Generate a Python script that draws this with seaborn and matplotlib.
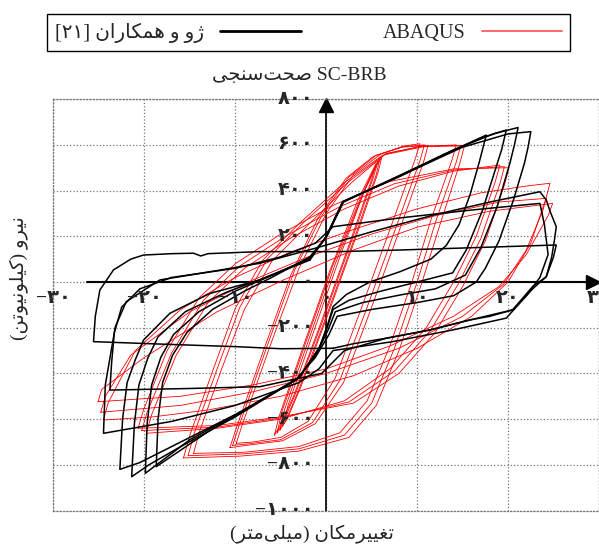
import re

import matplotlib
matplotlib.use('Agg')
import matplotlib.pyplot as plt
from matplotlib.lines import Line2D
import pandas as pd
import seaborn as sns


FONT = ['Liberation Serif', 'DejaVu Sans']

# Persian labels (logical order, shaped + reordered below)
TITLE = 'SC-BRB صحت\u200cسنجی'
XLABEL = 'تغییرمکان (میلی\u200cمتر)'
YLABEL = 'نیرو (کیلونیوتن)'
EXP_LABEL = 'ژو و همکاران [۲۱]'
FE_LABEL = 'ABAQUS'

X_TICKS = [-30, -20, -10, 0, 10, 20, 30]
X_TICK_LABELS = ['−۳۰', '−۲۰', '−۱۰', '۰', '۱۰', '۲۰', '۳۰']
Y_TICKS = [800, 600, 400, 200, 0, -200, -400, -600, -800, -1000]
Y_TICK_LABELS = ['۸۰۰', '۶۰۰', '۴۰۰', '۲۰۰', '۰', '−۲۰۰', '−۴۰۰', '−۶۰۰', '−۸۰۰', '−۱۰۰۰']

EXP_1 = [(-1.8, 110), (0.0, 198), (1.85, 351), (6.0, 428), (11.0, 520), (15.0, 595), (17.6, 643),
         (16.8, 520), (15.8, 380), (14.6, 250), (13.2, 160), (11.5, 100), (8.1, 45), (4.8, 0),
         (2.2, -55), (0.75, -108), (0.2, -181), (-0.7, -283), (-2.9, -414), (-8.0, -538),
         (-13.0, -655), (-18.7, -808), (-18.5, -600), (-18.0, -440), (-16.9, -320), (-15.3, -220),
         (-12.5, -120), (-9.0, -40), (-6.0, 20), (-1.8, 110)]
EXP_2 = [(-1.8, 105), (0.0, 195), (1.9, 350), (7.0, 445), (13.0, 560), (17.0, 630), (19.8, 665),
         (19.3, 580), (18.7, 505), (17.2, 315), (15.4, 140), (13.9, 40), (10.0, 0), (6.0, -40),
         (2.5, -80), (0.75, -120), (0.1, -200), (-0.8, -290), (-3.0, -420), (-9.0, -560),
         (-15.0, -690), (-19.9, -837), (-19.7, -620), (-19.2, -450), (-18.2, -330), (-16.8, -230),
         (-14.0, -130), (-10.0, -40), (-6.5, 20), (-1.8, 105)]
EXP_3 = [(-1.8, 100), (0.0, 200), (1.8, 352), (8.0, 460), (14.0, 578), (18.5, 650), (21.1, 676),
         (20.7, 600), (20.2, 520), (18.8, 330), (17.0, 150), (15.3, 30), (12.0, -30), (8.1, -57),
         (4.0, -90), (1.0, -130), (0.2, -210), (-1.0, -310), (-3.2, -425), (-10.0, -590),
         (-16.0, -720), (-19.5, -800), (-21.4, -852), (-21.1, -620), (-20.6, -450), (-19.6, -330),
         (-18.5, -240), (-15.5, -130), (-11.0, -45), (-7.0, 15), (-1.8, 100)]
EXP_4 = [(-1.8, 96), (0.0, 198), (1.85, 351), (9.0, 480), (15.0, 590), (20.0, 648), (22.5, 658),
         (22.2, 590), (21.8, 520), (20.6, 360), (19.0, 180), (17.5, 60), (16.5, 0), (14.0, -60),
         (10.0, -90), (5.0, -120), (1.2, -150), (0.3, -230), (-1.2, -330), (-3.4, -430),
         (-10.0, -580), (-16.0, -700), (-20.5, -790), (-22.7, -820), (-22.4, -600), (-21.9, -440),
         (-21.0, -340), (-20.1, -254), (-17.2, -137), (-12.8, -50), (-7.3, 9), (-1.8, 96)]
EXP_5 = [(0.75, -290), (-5.0, -292), (-9.9, -283), (-18.0, -272), (-25.6, -261), (-25.4, -150),
         (-24.9, -35), (-23.4, 53), (-21.5, 100), (-20.1, 118), (-17.0, 124), (-14.6, 126),
         (-13.8, 114), (-13.0, 124), (-7.3, 133), (1.5, 133), (8.1, 140), (16.0, 150), (25.3, 162),
         (25.0, 110), (24.6, 67), (24.2, 23), (22.7, -20), (20.5, -122), (18.0, -150), (15.8, -166),
         (11.4, -210), (6.6, -246), (3.0, -270), (0.75, -290)]
EXP_6 = [(-1.0, 150), (5.0, 220), (12.0, 295), (18.0, 350), (23.5, 395), (24.2, 359), (24.7, 301),
         (25.3, 242), (25.1, 184), (24.8, 110), (24.2, 23), (22.7, -30), (19.8, -158), (13.9, -210),
         (7.3, -261), (0.75, -300), (-0.8, -380), (-3.0, -440), (-10.0, -540), (-17.0, -610),
         (-24.2, -660), (-24.5, -662), (-24.3, -450), (-23.2, -196), (-22.0, -86), (-18.3, 9),
         (-12.0, 50), (-7.3, 82), (-1.0, 150)]
EXP_7 = [(-1.2, 170), (0.75, 242), (8.0, 280), (16.0, 315), (23.5, 344), (24.0, 250), (24.4, 120),
         (23.5, 20), (22.0, -60), (20.5, -122), (15.8, -166), (11.4, -210), (6.6, -246), (2.0, -300),
         (-0.5, -400), (-7.3, -458), (-15.0, -466), (-23.8, -473), (-23.6, -350), (-23.3, -220),
         (-22.5, -110), (-20.5, -30), (-17.0, 20), (-10.0, 60), (-5.0, 110), (-1.2, 170)]

# ABAQUS loops
FE_1 = [(-5.1, -648), (-4.6, -560), (-2.0, -260), (1.0, 80), (4.0, 380), (5.4, 500), (5.9, 540),
        (5.5, 470), (3.0, 180), (0.0, -150), (-3.0, -470), (-4.5, -610), (-5.1, -648)]
FE_2 = [(-4.8, -630), (-4.2, -540), (-1.5, -230), (1.5, 110), (4.2, 400), (5.5, 510), (6.1, 545),
        (5.7, 480), (3.3, 200), (0.3, -130), (-2.8, -460), (-4.3, -600), (-4.8, -630)]
FE_3 = [(-5.4, -660), (-4.9, -570), (-2.3, -270), (0.7, 70), (3.8, 370), (5.2, 490), (5.7, 530),
        (5.2, 460), (2.7, 170), (-0.3, -160), (-3.3, -480), (-4.8, -620), (-5.4, -660)]
FE_4 = [(-9.9, -706), (-9.2, -620), (-6.0, -260), (-3.0, 60), (0.0, 300), (3.0, 470), (6.0, 560),
        (8.5, 595), (10.3, 605), (9.8, 540), (7.0, 230), (4.0, -100), (1.0, -420), (-2.0, -610),
        (-5.0, -680), (-8.0, -700), (-9.9, -706)]
FE_5 = [(-10.3, -715), (-9.6, -630), (-6.5, -280), (-3.5, 50), (-0.5, 290), (2.5, 460), (5.5, 555),
        (8.5, 592), (10.8, 600), (10.3, 530), (7.5, 220), (4.5, -110), (1.5, -430), (-1.5, -615),
        (-5.0, -690), (-8.5, -708), (-10.3, -715)]
FE_6 = [(-14.6, -750), (-13.9, -650), (-11.5, -380), (-9.0, -120), (-6.0, 90), (-2.0, 250),
        (2.9, 439), (6.6, 563), (10.3, 592), (14.3, 600), (13.8, 530), (11.5, 270), (9.5, 10),
        (7.0, -280), (4.5, -520), (1.5, -660), (-3.0, -720), (-9.0, -745), (-14.6, -750)]
FE_7 = [(-15.2, -760), (-14.5, -660), (-12.0, -380), (-9.5, -110), (-6.5, 100), (-2.5, 260),
        (2.5, 440), (6.5, 560), (10.5, 595), (14.8, 598), (14.3, 525), (12.0, 260), (10.0, 0),
        (7.5, -290), (5.0, -530), (2.0, -670), (-3.0, -730), (-9.0, -752), (-15.2, -760)]
FE_8 = [(-19.8, -662), (-19.2, -580), (-16.5, -320), (-13.0, -90), (-9.0, 60), (-4.0, 190),
        (2.0, 320), (8.0, 420), (14.0, 485), (19.1, 512), (18.6, 440), (16.5, 200), (14.0, 0),
        (11.0, -200), (7.0, -380), (2.0, -520), (-5.0, -600), (-12.0, -640), (-19.8, -662)]
FE_9 = [(-20.3, -650), (-19.7, -570), (-17.0, -310), (-13.5, -80), (-9.5, 70), (-4.5, 200),
        (1.5, 330), (7.5, 430), (14.0, 490), (19.6, 505), (19.1, 430), (17.0, 190), (14.5, -10),
        (11.5, -210), (7.5, -390), (2.5, -525), (-5.0, -595), (-12.0, -635), (-20.3, -650)]
FE_10 = [(-24.5, -604), (-24.0, -530), (-21.0, -300), (-16.0, -120), (-10.0, 20), (-4.0, 130),
         (3.0, 230), (10.0, 320), (17.0, 390), (22.0, 420), (24.6, 432), (24.2, 370), (22.5, 170),
         (20.0, 0), (16.0, -150), (10.0, -290), (3.0, -410), (-5.0, -500), (-13.0, -560),
         (-19.0, -590), (-24.5, -604)]
FE_11 = [(-24.8, -570), (-24.3, -500), (-21.5, -320), (-15.0, -130), (-8.0, 10), (-2.0, 110),
         (5.0, 210), (12.0, 290), (19.0, 350), (24.2, 366), (23.8, 310), (22.0, 140), (19.5, -10),
         (15.0, -150), (8.0, -290), (0.0, -400), (-8.0, -480), (-16.0, -540), (-24.8, -570)]
FE_12 = [(-25.1, -524), (-24.7, -470), (-20.0, -330), (-12.0, -130), (-4.7, 9), (3.0, 140),
         (10.0, 240), (18.0, 310), (24.9, 344), (24.4, 290), (22.0, 120), (19.0, -20), (14.0, -150),
         (7.0, -280), (0.0, -380), (-8.0, -450), (-16.0, -500), (-25.1, -524)]
FE_13 = [(-5.7, -670), (-5.2, -590), (-2.6, -290), (0.4, 50), (3.5, 360), (5.0, 480), (5.5, 520),
         (5.0, 450), (2.4, 150), (-0.6, -180), (-3.6, -500), (-5.1, -630), (-5.7, -670)]
FE_14 = [(-10.6, -725), (-9.9, -640), (-6.9, -300), (-3.9, 30), (-0.9, 280), (2.2, 455), (5.2, 550),
         (8.3, 590), (11.2, 598), (10.7, 525), (7.9, 210), (4.9, -120), (1.9, -440), (-1.2, -620),
         (-4.8, -695), (-8.8, -715), (-10.6, -725)]
FE_15 = [(-15.7, -770), (-15.0, -670), (-12.5, -390), (-10.0, -115), (-7.0, 95), (-3.0, 255),
         (2.0, 435), (6.2, 555), (10.7, 592), (15.2, 596), (14.7, 520), (12.5, 250), (10.5, -5),
         (8.0, -300), (5.5, -540), (2.5, -680), (-3.0, -740), (-9.5, -762), (-15.7, -770)]
FE_16 = [(-20.7, -640), (-20.1, -560), (-17.5, -300), (-14.0, -70), (-10.0, 80), (-5.0, 210),
         (1.0, 340), (7.0, 440), (14.0, 495), (20.1, 500), (19.6, 425), (17.5, 180), (15.0, -20),
         (12.0, -220), (8.0, -400), (3.0, -530), (-5.0, -590), (-12.0, -628), (-20.7, -640)]

EXP_LOOPS = [EXP_1, EXP_2, EXP_3, EXP_4, EXP_5, EXP_6, EXP_7]
FE_LOOPS = [FE_1, FE_2, FE_3, FE_13, FE_4, FE_5, FE_14, FE_6, FE_7, FE_15, FE_8, FE_9, FE_16,
            FE_10, FE_11, FE_12]

FORMS = {
    'ا': ('\uFE8D', '\uFE8E', None, None),
    'ت': ('\uFE95', '\uFE96', '\uFE97', '\uFE98'),
    'ج': ('\uFE9D', '\uFE9E', '\uFE9F', '\uFEA0'),
    'ح': ('\uFEA1', '\uFEA2', '\uFEA3', '\uFEA4'),
    'ر': ('\uFEAD', '\uFEAE', None, None),
    'ژ': ('\uFB8A', '\uFB8B', None, None),
    'س': ('\uFEB1', '\uFEB2', '\uFEB3', '\uFEB4'),
    'ص': ('\uFEB9', '\uFEBA', '\uFEBB', '\uFEBC'),
    'غ': ('\uFECD', '\uFECE', '\uFECF', '\uFED0'),
    'ک': ('\uFB8E', '\uFB8F', '\uFB90', '\uFB91'),
    'ل': ('\uFEDD', '\uFEDE', '\uFEDF', '\uFEE0'),
    'م': ('\uFEE1', '\uFEE2', '\uFEE3', '\uFEE4'),
    'ن': ('\uFEE5', '\uFEE6', '\uFEE7', '\uFEE8'),
    'ه': ('\uFEE9', '\uFEEA', '\uFEEB', '\uFEEC'),
    'و': ('\uFEED', '\uFEEE', None, None),
    'ی': ('\uFBFC', '\uFBFD', '\uFBFE', '\uFBFF'),
}
MIRROR = {'(': ')', ')': '(', '[': ']', ']': '['}


def fa(text):
    """Shape Persian letters and put the string in visual (LTR) order."""
    out = []
    for i, c in enumerate(text):
        if c not in FORMS:
            out.append(c)
            continue
        prev = text[i - 1] if i > 0 else ''
        nxt = text[i + 1] if i + 1 < len(text) else ''
        join_prev = prev in FORMS and FORMS[prev][2] is not None
        join_next = FORMS[c][2] is not None and nxt in FORMS
        iso, fin, ini, med = FORMS[c]
        if join_prev and join_next:
            out.append(med)
        elif join_prev:
            out.append(fin)
        elif join_next:
            out.append(ini)
        else:
            out.append(iso)
    shaped = ''.join(out).replace('\u200c', '')
    rev = ''.join(MIRROR.get(c, c) for c in shaped[::-1])
    return re.sub(r'[A-Za-z0-9\u06F0-\u06F9][A-Za-z0-9\u06F0-\u06F9\-]*', lambda m: m.group(0)[::-1], rev)


def to_frame(loops):
    rows = []
    for k, loop in enumerate(loops):
        for j, (d, f) in enumerate(loop):
            rows.append({'loop': k, 'order': j, 'disp': d, 'force': f})
    return pd.DataFrame(rows)


def main():
    sns.set_style('white')
    plt.rcParams['font.family'] = FONT

    exp = to_frame(EXP_LOOPS)
    fe = to_frame(FE_LOOPS)

    fig = plt.figure(figsize=(5.99, 5.56), dpi=100)
    ax = fig.add_axes([0.0893, 0.0818, 0.9107, 0.7398])

    sns.lineplot(data=fe, x='disp', y='force', units='loop', estimator=None, sort=False,
                 color='#ff0000', lw=0.6, ax=ax, legend=False)
    sns.lineplot(data=exp, x='disp', y='force', units='loop', estimator=None, sort=False,
                 color='black', lw=1.1, ax=ax, legend=False)

    ax.set_xlim(-30, 30)
    ax.set_ylim(-1000, 800)
    ax.set_xticks(X_TICKS)
    ax.set_yticks(Y_TICKS)
    ax.grid(True, ls=':', color='#777777', lw=0.9)
    ax.tick_params(length=0, labelbottom=False, labelleft=False)
    for sp in ax.spines.values():
        sp.set_color('#777777')
        sp.set_linestyle(':')
        sp.set_linewidth(0.9)
    ax.set_xlabel('')
    ax.set_ylabel('')

    # axes through the origin with arrow heads
    ax.plot([-26.3, 29.5], [0, 0], color='black', lw=1.5, zorder=1)
    ax.plot([0, 0], [-1000, 770], color='black', lw=1.2, zorder=1)
    ax.plot([29.3], [0], marker='>', ms=10, color='black', clip_on=False)
    ax.plot([0], [775], marker='^', ms=10, color='black', clip_on=False)

    for v, lab in zip(Y_TICKS, Y_TICK_LABELS):
        ax.text(-1.4, v, lab, ha='right', va='center', fontsize=14, fontweight='bold')
    for v, lab in zip(X_TICKS, X_TICK_LABELS):
        ax.text(v, -72, lab, ha='center', va='center', fontsize=14, fontweight='bold', clip_on=False)

    fig.text(0.50, 0.865, fa(TITLE), ha='center', va='center', fontsize=14)
    fig.text(0.52, 0.038, fa(XLABEL), ha='center', va='center', fontsize=14)
    fig.text(0.033, 0.50, fa(YLABEL), ha='center', va='center', rotation=90, fontsize=14)

    handles = [Line2D([], [], color='black', lw=2.0), Line2D([], [], color='#ff4d4d', lw=1.2)]
    fig.legend(handles, [fa(EXP_LABEL), FE_LABEL], ncol=2, markerfirst=False, mode='expand',
               loc='center', bbox_to_anchor=(0.078, 0.901, 0.874, 0.081), fontsize=14.5,
               frameon=True, fancybox=False, edgecolor='black', framealpha=1,
               handlelength=4.0, borderaxespad=0)

    fig.savefig('out.png', dpi=100)


if __name__ == '__main__':
    main()
